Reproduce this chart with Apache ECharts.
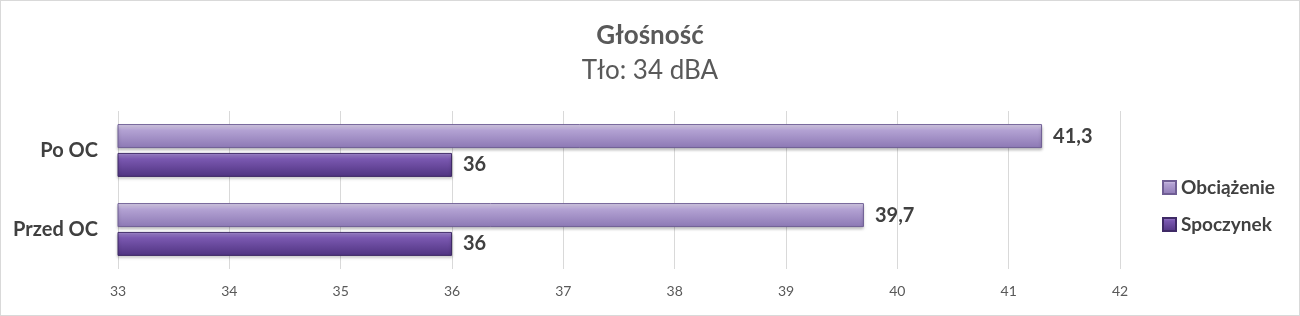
<!DOCTYPE html>
<html><head><meta charset="utf-8">
<script src="https://cdn.jsdelivr.net/npm/echarts@6/dist/echarts.min.js"></script>
<style>html,body{margin:0;padding:0;background:#fff}#c{width:1300px;height:316px;box-sizing:border-box;border:1px solid #d9d9d9}</style>
</head><body><div id="c"></div>
<script>
const categories = ['Przed OC', 'Po OC'];
const spoczynek = [36, 36];
const obciazenie = [39.7, 41.3];
const xTicks = [33, 34, 35, 36, 37, 38, 39, 40, 41, 42];

const chart = echarts.init(document.getElementById('c'));
const font = 'Lato, "Open Sans", sans-serif';
function grad(top, mid, bot) {
  return new echarts.graphic.LinearGradient(0, 0, 0, 1, [
    {offset: 0, color: top}, {offset: 0.25, color: mid}, {offset: 1, color: bot}
  ]);
}
const fmt = p => String(p.value).replace('.', ',');
chart.setOption({
  animation: false,
  textStyle: {fontFamily: font},
  title: {
    text: 'Głośność', subtext: 'Tło: 34 dBA', left: 'center', top: 17, itemGap: 9,
    textStyle: {fontFamily: font, fontSize: 26, fontWeight: 'bold', color: '#595959'},
    subtextStyle: {fontFamily: font, fontSize: 26, color: '#595959'}
  },
  legend: {
    orient: 'vertical', left: 1156, top: 172, itemGap: 18, itemWidth: 13, itemHeight: 13,
    icon: 'rect',
    data: ['Obciążenie', 'Spoczynek'],
    textStyle: {fontFamily: font, fontSize: 19, fontWeight: 'bold', color: '#404040'}
  },
  grid: {left: 117, right: 179, top: 110, bottom: 46, containLabel: false},
  xAxis: {
    type: 'value', min: xTicks[0], max: xTicks[xTicks.length - 1], interval: 1,
    axisLine: {show: false}, axisTick: {show: false},
    splitLine: {lineStyle: {color: '#d9d9d9', width: 1}},
    axisLabel: {fontFamily: font, fontSize: 14, color: '#595959', margin: 15}
  },
  yAxis: {
    type: 'category', data: categories,
    axisLine: {show: false}, axisTick: {show: false},
    axisLabel: {fontFamily: font, fontSize: 20, fontWeight: 'bold', color: '#404040', margin: 20}
  },
  series: [
    {
      name: 'Obciążenie', type: 'bar', data: obciazenie, barWidth: 24, barGap: '20%',
      itemStyle: {color: grad('#e6dcf5', '#b3a2d3', '#8c78b4'), borderColor: '#6f5e94', borderWidth: 1, shadowColor: 'rgba(0,0,0,0.25)', shadowBlur: 3, shadowOffsetY: 2},
      label: {show: true, position: 'right', distance: 11, formatter: fmt, fontFamily: font, fontSize: 20, fontWeight: 'bold', color: '#404040'}
    },
    {
      name: 'Spoczynek', type: 'bar', data: spoczynek, barWidth: 24, barGap: '20%',
      itemStyle: {color: grad('#a98fd6', '#7a58b0', '#4f3380'), borderColor: '#3f2a66', borderWidth: 1, shadowColor: 'rgba(0,0,0,0.25)', shadowBlur: 3, shadowOffsetY: 2},
      label: {show: true, position: 'right', distance: 11, formatter: fmt, fontFamily: font, fontSize: 20, fontWeight: 'bold', color: '#404040'}
    }
  ]
});
</script></body></html>
